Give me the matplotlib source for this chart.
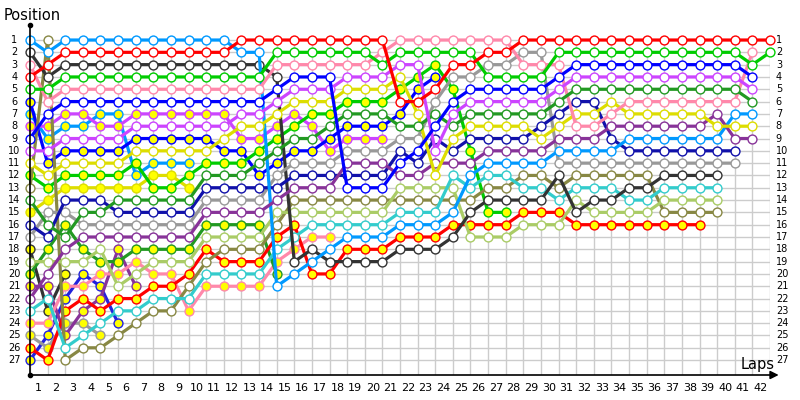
import numpy as np
import matplotlib.pyplot as plt

# posicao de cada piloto em cada volta (indice 0 = grid de largada)
red_w = [4,3,2,2,2,2,2,2,2,2,2,2,1,1,1,1,1,1,1,1,1,6,6,5,3,3,2,2,1,1,1,1,1,1,1,1,1,1,1,1,1,1,1]
green_w = [5,5,4,4,4,4,4,4,4,4,4,4,4,4,2,2,2,2,2,2,3,2,2,2,2,2,4,4,4,4,2,2,2,2,2,2,2,2,2,2,2,3,2]
pink_w = [3,6,5,5,5,5,5,5,5,5,5,5,5,5,3,3,3,3,3,3,2,1,1,1,1,1,1,1,3,3,3,8,8,7,6,6,6,6,6,6,6,2]
ltblue_w = [1,2,1,1,1,1,1,1,1,1,1,1,2,2,21,20,19,18,17,17,17,16,16,16,15,12,11,11,11,11,10,10,10,10,9,9,9,9,9,9,7,7]
black_w = [2,4,3,3,3,3,3,3,3,3,3,3,3,3,4,19,18,19,19,19,19,18,18,18,17,15,14,14,14,14,12,15,14,14,13,13,12,12,12,12]
blue_w = [9,7,6,6,6,6,6,6,6,6,6,6,6,6,5,4,4,4,13,13,13,11,10,8,6,5,5,5,5,5,4,3,3,3,3,3,3,3,3,3,3,4]
violet_w = [10,10,9,9,9,9,8,8,8,8,8,8,7,7,6,5,5,5,4,4,4,3,3,10,7,6,6,6,6,6,5,4,4,4,4,4,4,4,4,4,4,5]
yellow_w = [11,12,11,11,11,11,10,10,10,10,10,9,8,8,7,6,6,6,5,5,5,4,7,12,9,8,8,8,8,9,8,7,7,6,7,7,7,7,7,8,8,8]
dkgreen_w = [14,16,17,15,15,14,14,14,14,14,12,12,12,11,10,9,9,8,7,7,7,8,8,7,8,7,7,7,7,7,6,5,5,5,5,5,5,5,5,5,5,6]
olive_w = [13,1,27,26,26,25,24,23,23,21,19,18,18,18,16,14,14,14,14,14,14,14,14,14,14,14,13,13,12,12,13,12,12,12,12,12,15,15,15,15]
navy_w = [16,17,14,14,14,15,15,15,15,15,13,13,13,13,13,12,12,12,12,12,12,10,11,9,10,9,9,9,9,8,7,6,6,9,10,10,10,10,10,10,10]
gray_w = [17,15,15,16,16,16,16,16,16,16,14,14,14,14,12,11,11,11,10,10,10,9,9,6,4,4,3,3,2,2,11,11,11,11,11,11,11,11,11,11,11]
ltgreen_w = [19,19,19,19,18,21,20,19,19,19,17,17,17,17,15,15,15,15,15,15,15,13,13,13,13,17,17,17,16,16,16,14,15,15,15,15,14,14,14,14]
dkpurple_w = [22,20,18,17,17,17,17,17,17,17,15,15,15,15,14,13,13,13,11,11,11,12,12,11,11,11,10,10,10,10,9,9,9,8,8,8,8,8,8,7,9,9]
cyan_w = [23,22,26,25,24,23,23,22,22,22,20,20,20,20,18,17,16,16,16,16,16,15,15,15,12,13,12,12,13,13,14,13,13,13,14,14,13,13,13,13]
red_y = [26,27,23,22,23,22,22,21,21,20,18,19,19,19,17,16,20,20,18,18,18,17,17,17,16,16,16,16,15,15,15,16,16,16,16,16,16,16,16]
blue_y = [6,11,10,10,10,10,9,9,9,9,9,10,10,12,11,10,10,9,8,8,8,7,5,4]
violet_y = [8,8,7,7,8,8,7,7,7,7,7,7,9,9,8,7,8,10,9,9,9]
green_y = [12,13,12,12,12,12,11,13,13,12,11,11,11,10,9,8,7,7,6,6,6,5,4,3,5,10,15,15]
ltblue_y = [7,9,8,8,7,7,12,11,11,11]
yellow_y = [15,14,13,13,13,13,13,12,12,13]
dkgreen_y = [20,18,16,18,19,19,18,18,18,18,16,16,16,16,20]
dkpurple_y = [21,21,25,23,22,18,21]
pink_y = [24,24,21,21,20,20,19,20,20,23,21,21,21,21,19,18,17,17]
gray_y = [25,26,24,24,25]
black_y = [18,23,20]
navy_y = [27,25,22,20,21,24]

# (serie, cor da linha, preenchimento) - desenhados de tras para frente
pilotos = [
    (navy_y, '#2222DD', '#FFFF00'), (black_y, '#333333', '#FFFF00'),
    (gray_y, '#999999', '#FFFF00'), (dkpurple_y, '#883399', '#FFFF00'),
    (pink_y, '#FF88AA', '#FFFF00'), (dkgreen_y, '#229922', '#FFFF00'),
    (yellow_y, '#DDDD00', '#FFFF00'), (ltblue_y, '#0099FF', '#FFFF00'),
    (violet_y, '#CC44FF', '#FFFF00'), (blue_y, '#0000FF', '#FFFF00'),
    (green_y, '#00CC00', '#FFFF00'), (red_y, '#FF0000', '#FFFF00'),
    (olive_w, '#888844', 'white'), (ltgreen_w, '#AACC66', 'white'),
    (cyan_w, '#33CCCC', 'white'), (black_w, '#333333', 'white'),
    (gray_w, '#999999', 'white'), (navy_w, '#1111AA', 'white'),
    (ltblue_w, '#0099FF', 'white'), (dkpurple_w, '#883399', 'white'),
    (yellow_w, '#DDDD00', 'white'), (pink_w, '#FF88AA', 'white'),
    (dkgreen_w, '#229922', 'white'), (violet_w, '#CC44FF', 'white'),
    (blue_w, '#0000FF', 'white'), (green_w, '#00CC00', 'white'),
    (red_w, '#FF0000', 'white'),
]

n_voltas = 42
n_pos = 27

fig = plt.figure(figsize=(8, 4), dpi=100)
ax = fig.add_axes([30/800, 25/400, 740/800, 350/400])
ax.set_xlim(0, n_voltas)
ax.set_ylim(28.21, -0.22)
ax.axis('off')

# grade
for p in range(1, n_pos + 1):
    ax.plot([0, n_voltas], [p, p], color='#CCCCCC', lw=1, zorder=1)
for v in range(0, n_voltas + 1):
    ax.plot([v, v], [0.7, 28.21], color='#CCCCCC', lw=1, zorder=1)

# pilotos
z = 2
for serie, cor, fundo in pilotos:
    x = np.arange(len(serie))
    ax.plot(x, serie, color=cor, lw=2.3, zorder=z, clip_on=False, solid_capstyle='round')
    ax.plot(x, serie, 'o', ms=6.4, mfc=fundo, mec=cor, mew=1.0, zorder=z + 0.5, clip_on=False)
    z += 1

# eixos
ax.plot([0, 0], [-0.22, 28.21], color='black', lw=1.2, clip_on=False, zorder=100)
ax.plot([0], [-0.22], 'o', color='black', ms=3, clip_on=False, zorder=100)
ax.plot([0], [28.21], 'o', color='black', ms=3, clip_on=False, zorder=100)
ax.annotate('', xy=(42.65, 28.21), xytext=(0, 28.21), zorder=100,
            arrowprops=dict(arrowstyle='-|>', color='black', lw=1.2, mutation_scale=12),
            annotation_clip=False)

# rotulos das posicoes
for p in range(1, n_pos + 1):
    ax.text(-0.88, p, str(p), ha='center', va='center', fontsize=7, clip_on=False)
    ax.text(42.33, p, str(p), ha='left', va='center', fontsize=7, clip_on=False)

# rotulos das voltas
for v in range(1, n_voltas + 1):
    ax.text(v - 0.55, 29.27, str(v), ha='center', va='center', fontsize=8, clip_on=False)

fig.text(32/800, 1 - 16/400, 'Position', ha='center', va='center', fontsize=10.5)
fig.text(758/800, 1 - 364/400, 'Laps', ha='center', va='center', fontsize=10.5)

fig.savefig('out.png', dpi=100)
